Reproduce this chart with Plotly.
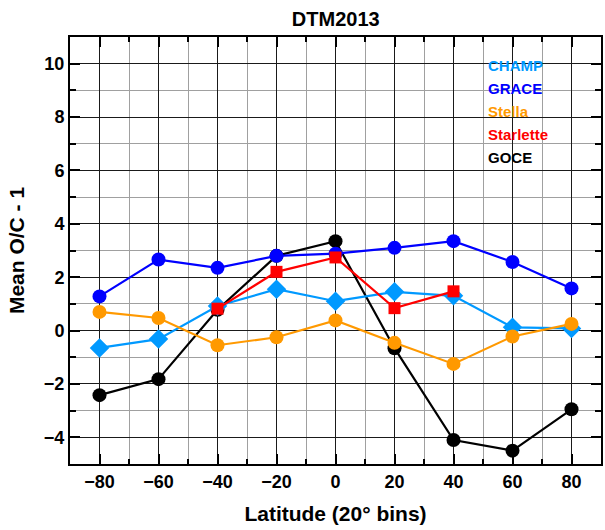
import plotly.graph_objects as go

lat = [-80, -60, -40, -20, 0, 20, 40, 60, 80]
champ = [-0.65, -0.32, 0.92, 1.55, 1.1, 1.45, 1.3, 0.12, 0.08]
grace = [1.28, 2.66, 2.35, 2.8, 2.88, 3.1, 3.35, 2.57, 1.58]
stella = [0.7, 0.47, -0.55, -0.25, 0.38, -0.46, -1.25, -0.22, 0.25]
starlette_lat = [-40, -20, 0, 20, 40]
starlette = [0.82, 2.2, 2.74, 0.84, 1.47]
goce = [-2.42, -1.82, 0.78, 2.8, 3.35, -0.66, -4.1, -4.5, -2.95]

names = ["CHAMP", "GRACE", "Stella", "Starlette", "GOCE"]
colors = {"CHAMP": "#0099ff", "GRACE": "#0000ff", "Stella": "#ff9900",
          "Starlette": "#ff0000", "GOCE": "#000000"}

fig = go.Figure()

def add(x, y, name, symbol, size):
    fig.add_trace(go.Scatter(
        x=x, y=y, mode="lines+markers", name=name,
        line=dict(color=colors[name], width=2.2),
        marker=dict(color=colors[name], symbol=symbol, size=size),
        showlegend=False))

add(lat, goce, "GOCE", "circle", 14)
add(lat, champ, "CHAMP", "diamond", 15)
add(lat, grace, "GRACE", "circle", 14)
add(lat, stella, "Stella", "circle", 14)
add(starlette_lat, starlette, "Starlette", "square", 12)

font = "Liberation Sans, Arial, sans-serif"

for i, n in enumerate(names):
    fig.add_annotation(
        x=0.783, y=0.933 - i * 0.054, xref="paper", yref="paper",
        text="<b>%s</b>" % n, showarrow=False, xanchor="left", yanchor="middle",
        font=dict(family=font, size=15, color=colors[n]))

fig.update_layout(
    width=605, height=530,
    margin=dict(l=70, r=2, t=37, b=66),
    paper_bgcolor="white", plot_bgcolor="white",
    title=dict(text="<b>DTM2013</b>", x=0.555, xanchor="center", y=0.964,
               yanchor="middle", font=dict(family=font, size=20, color="black")),
    font=dict(family=font, color="black"),
)

tickfont = dict(family=font, size=18, color="black", weight="bold")

fig.update_xaxes(
    range=[-90, 90], tickmode="array", tickvals=[-80, -60, -40, -20, 0, 20, 40, 60, 80],
    tickfont=tickfont,
    ticks="inside", ticklen=10, tickwidth=2, tickcolor="black",
    showline=True, linecolor="black", linewidth=2, mirror="ticks",
    showgrid=True, gridcolor="#1a1a1a", gridwidth=1.2,
    minor=dict(dtick=10, tick0=0, ticks="inside", ticklen=5, tickwidth=2, tickcolor="black",
               showgrid=True, gridcolor="#a0a0a0", gridwidth=1.2),
    zeroline=False,
    title=dict(text="<b>Latitude (20° bins)</b>", font=dict(family=font, size=21), standoff=16),
)
fig.update_yaxes(
    range=[-5, 11], tickmode="array", tickvals=[-4, -2, 0, 2, 4, 6, 8, 10],
    tickfont=tickfont,
    ticks="inside", ticklen=10, tickwidth=2, tickcolor="black",
    showline=True, linecolor="black", linewidth=2, mirror="ticks",
    showgrid=True, gridcolor="#1a1a1a", gridwidth=1.2,
    minor=dict(dtick=1, tick0=0, ticks="inside", ticklen=6, tickwidth=2, tickcolor="black",
               showgrid=True, gridcolor="#a0a0a0", gridwidth=1.2),
    zeroline=False,
    title=dict(text="<b>Mean O/C - 1</b>", font=dict(family=font, size=21), standoff=14),
)

fig.write_html("out.html")
